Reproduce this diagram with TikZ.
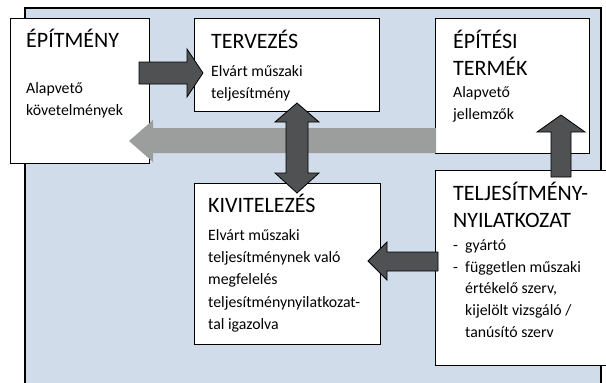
\documentclass[tikz,border=0pt]{standalone}
\usepackage{fontspec}
\setmainfont{Carlito}
\definecolor{bgblue}{HTML}{D0DCE9}
\definecolor{darkarr}{HTML}{4F5152}
\definecolor{lightarr}{HTML}{9C9D9D}
\tikzset{
  box/.style={draw=black, line width=1.1pt, fill=white, anchor=north west, inner sep=0pt},
  ttl/.style={anchor=base west, inner sep=0pt, font=\fontsize{22}{26}\selectfont},
  bdy/.style={anchor=base west, inner sep=0pt, font=\fontsize{15.8}{22}\selectfont},
  darkarrow/.style={fill=darkarr, draw=black, line width=0.8pt, line join=miter},
  lightarrow/.style={fill=lightarr, draw=none}
}
\begin{document}
\begin{tikzpicture}[x=1pt, y=-1pt]
\useasboundingbox (0,0) rectangle (606,383);
\clip (0,0) rectangle (606,383);
% background panel
\draw[fill=bgblue, draw=black, line width=1.1pt] (25,8) rectangle (601,400);
% boxes
\node[box, minimum width=139, minimum height=145] (epitmeny) at (10,18) {};
\node[box, minimum width=185, minimum height=93] (tervezes) at (194,18) {};
\node[box, minimum width=154, minimum height=135] (termek) at (435,18) {};
\node[box, minimum width=186, minimum height=161] (kivit) at (194,183) {};
\node[box, minimum width=200, minimum height=195] (telj) at (435,170) {};
% texts
\node[ttl] (t1) at (26,47) {ÉPÍTMÉNY};
\node[bdy] (t2) at (26,93) {Alapvető};
\node[bdy] (t3) at (26,115) {követelmények};
\node[ttl] (t4) at (211,48) {TERVEZÉS};
\node[bdy] (t5) at (211,76) {Elvárt műszaki};
\node[bdy] (t6) at (211,98) {teljesítmény};
\node[ttl] (t7) at (453,48) {ÉPÍTÉSI};
\node[ttl] (t8) at (453,75) {TERMÉK};
\node[bdy] (t9) at (453,97) {Alapvető};
\node[bdy] (t10) at (453,119) {jellemzők};
\node[ttl] (t11) at (208,212) {KIVITELEZÉS};
\node[bdy] (t12) at (208,240) {Elvárt műszaki};
\node[bdy] (t13) at (208,262) {teljesítménynek való};
\node[bdy] (t14) at (208,284) {megfelelés};
\node[bdy] (t15) at (208,307) {teljesítménynyilatkozat-};
\node[bdy] (t16) at (208,329) {tal igazolva};
\node[ttl] (t17) at (453,200) {TELJESÍTMÉNY-};
\node[ttl] (t18) at (453,227) {NYILATKOZAT};
\node[bdy] (t19) at (453,250) {-};
\node[bdy] (t20) at (465,250) {gyártó};
\node[bdy] (t21) at (453,272) {-};
\node[bdy] (t22) at (465,272) {független műszaki};
\node[bdy] (t23) at (465,293) {értékelő szerv,};
\node[bdy] (t24) at (465,315) {kijelölt vizsgáló /};
\node[bdy] (t25) at (465,337) {tanúsító szerv};
% arrows
\fill[lightarrow] (436,128) -- (153,128) -- (153,120) -- (129,141) -- (153,162) -- (153,153) -- (436,153) -- cycle;
\draw[darkarrow] (139,62) -- (187,62) -- (187,49) -- (203,73) -- (187,97) -- (187,84) -- (139,84) -- cycle;
\draw[darkarrow] (286,122) -- (275,122) -- (297,103) -- (319,122) -- (308,122) -- (308,173) -- (319,173) -- (297,193) -- (275,173) -- (286,173) -- cycle;
\draw[darkarrow] (551,177) -- (551,132) -- (537,132) -- (561,115) -- (585,132) -- (571,132) -- (571,177) -- cycle;
\draw[darkarrow] (438,252) -- (387,252) -- (387,242) -- (368,261) -- (387,280) -- (387,271) -- (438,271) -- cycle;
\end{tikzpicture}
\end{document}
